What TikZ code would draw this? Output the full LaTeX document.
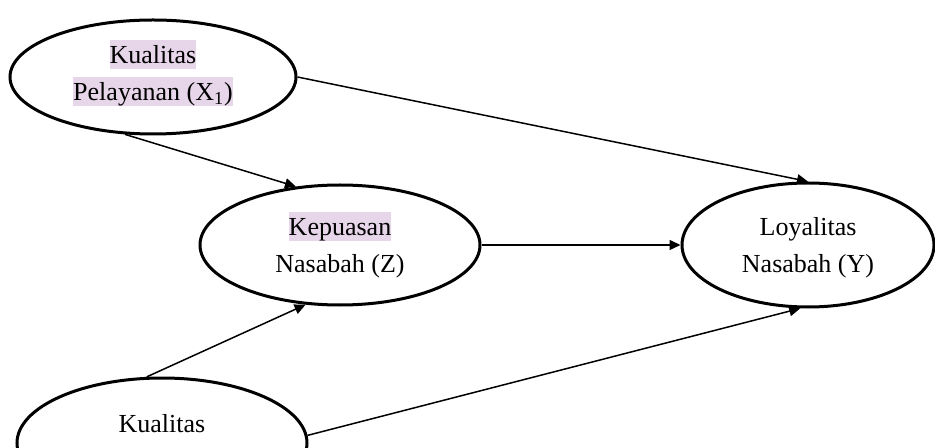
\documentclass[tikz,border=0pt]{standalone}
\usepackage{fontspec}
\setmainfont{Liberation Serif}
\usepackage{xcolor}
\usepackage{tikz}
\usetikzlibrary{shapes.geometric,arrows.meta}

\definecolor{hlpurple}{RGB}{231,214,233}
\newcommand{\lnst}{\rule[-2.5pt]{0pt}{14.2pt}}
\newcommand{\hlt}[1]{{\setlength{\fboxsep}{0pt}\colorbox{hlpurple}{\lnst#1}}}

\begin{document}
\begin{tikzpicture}[x=0.5pt, y=-0.5pt,
    var/.style={ellipse, draw, line width=1.5pt, inner sep=1pt, align=center, font=\fontsize{13}{18.5}\selectfont},
    link/.style={line width=0.75pt, -{Triangle[length=5.5pt,width=5pt]}}]
    \useasboundingbox (0,0) rectangle (935,448);
    \clip (0,0) rectangle (935,448);

    % Variables
    \node[var, minimum width=143pt, minimum height=57pt, text depth=6.5pt] (kp) at (153,77) {\hlt{Kualitas}\\\hlt{Pelayanan (X\textsubscript{1})}};
    \node[var, minimum width=140pt, minimum height=60pt] (kn) at (340,245) {\hlt{Kepuasan}\\\lnst Nasabah (Z)};
    \node[var, minimum width=126pt, minimum height=62pt] (ln) at (808,245) {\lnst Loyalitas\\\lnst Nasabah (Y)};
    \node[var, minimum width=145pt, minimum height=65pt, text depth=4pt] (kq) at (162,443) {\lnst Kualitas\\\lnst};

    % Paths
    \draw[link] (kp.east) -- (ln.north);
    \draw[link] (kp.244) -- (kn.127);
    \draw[link] (kn.east) -- (ln.west);
    \draw[link] (kq.103) -- (kn.240);
    \draw[link] (kq.3) -- (ln.263);

\end{tikzpicture}
\end{document}
